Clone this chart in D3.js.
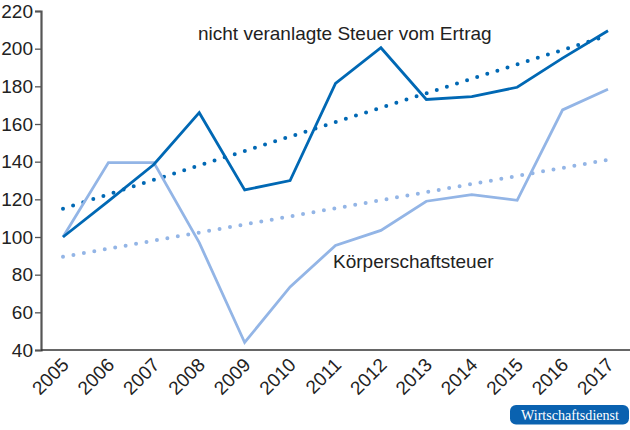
<!DOCTYPE html>
<html>
<head>
<meta charset="utf-8">
<script src="https://cdn.jsdelivr.net/npm/d3@7"></script>
<style>
  body { margin: 0; background: #fff; }
  text { font-family: "Liberation Sans", Arial, Helvetica, sans-serif; }
</style>
</head>
<body>
<div id="chart"></div>
<script>
// data
var years = [2005, 2006, 2007, 2008, 2009, 2010, 2011, 2012, 2013, 2014, 2015, 2016, 2017];
var ertrag = [100, 119, 138.5, 166, 125, 130, 181.5, 200.5, 173, 174.5, 179.5, 195, 209.5];
var koerperschaft = [100, 139.5, 139.5, 97, 44, 73.5, 95.5, 103.5, 119, 122.5, 119.5, 167.5, 178.5];
// dotted trend lines, start and end values (2005, 2017)
var trendYears = [2005, 2017];
var ertragTrend = [115, 207];
var koerperTrend = [89.5, 141];
var yTicks = [40, 60, 80, 100, 120, 140, 160, 180, 200, 220];

var W = 630, H = 430;
var margin = {top: 11, right: 0, bottom: 80, left: 41};
var width = W - margin.left - margin.right,
    height = H - margin.top - margin.bottom;

var dark = "#0068b4", light = "#93b5e6";
var fs = 19;

var svg = d3.select("#chart").append("svg")
    .attr("width", W)
    .attr("height", H);

var g = svg.append("g")
    .attr("transform", "translate(" + margin.left + "," + margin.top + ")");

var x = d3.scaleLinear().domain([2005, 2017]).range([22, 567]);
var y = d3.scaleLinear().domain([40, 220]).range([height, 0]);

// y axis
var yAxis = d3.axisLeft(y).tickValues(yTicks).tickSize(6).tickPadding(2);
var ya = g.append("g").call(yAxis);
ya.select(".domain").attr("stroke", "#555").attr("stroke-width", 2.2);
ya.selectAll(".tick line").attr("stroke", "#555").attr("stroke-width", 1.3);
ya.selectAll("text").attr("font-size", fs).attr("fill", "#222");

// x axis line
g.append("line")
    .attr("x1", 0).attr("x2", width)
    .attr("y1", height).attr("y2", height)
    .attr("stroke", "#333").attr("stroke-width", 1.6);

// x labels rotated
g.selectAll(".xlab")
    .data(years)
    .enter().append("text")
    .attr("class", "xlab")
    .attr("text-anchor", "end")
    .attr("font-size", fs)
    .attr("fill", "#222")
    .attr("transform", function(d){
        return "translate(" + (x(d) + 7) + "," + (height + 16) + ") rotate(-45)";
    })
    .text(function(d){ return d; });

var line = d3.line()
    .x(function(d){ return x(d[0]); })
    .y(function(d){ return y(d[1]); });

// trend lines (dotted)
g.append("path")
    .datum(d3.zip(trendYears, koerperTrend))
    .attr("d", line)
    .attr("fill", "none")
    .attr("stroke", light)
    .attr("stroke-width", 4)
    .attr("stroke-linecap", "round")
    .attr("stroke-dasharray", "0,10.6");

g.append("path")
    .datum(d3.zip(trendYears, ertragTrend))
    .attr("d", line)
    .attr("fill", "none")
    .attr("stroke", dark)
    .attr("stroke-width", 4)
    .attr("stroke-linecap", "round")
    .attr("stroke-dasharray", "0,10.6");

// series
g.append("path")
    .datum(d3.zip(years, koerperschaft))
    .attr("d", line)
    .attr("fill", "none")
    .attr("stroke", light)
    .attr("stroke-width", 2.8)
    .attr("stroke-linejoin", "miter");

g.append("path")
    .datum(d3.zip(years, ertrag))
    .attr("d", line)
    .attr("fill", "none")
    .attr("stroke", dark)
    .attr("stroke-width", 2.8)
    .attr("stroke-linejoin", "miter");

// series labels
g.append("text")
    .attr("x", 157).attr("y", 29)
    .attr("font-size", fs)
    .attr("fill", "#222")
    .text("nicht veranlagte Steuer vom Ertrag");

g.append("text")
    .attr("x", 292).attr("y", 257)
    .attr("font-size", fs)
    .attr("fill", "#222")
    .text("Körperschaftsteuer");

// badge
svg.append("rect")
    .attr("x", 510).attr("y", 405)
    .attr("width", 119).attr("height", 19.5)
    .attr("rx", 6).attr("ry", 6)
    .attr("fill", "#0a62b0");

svg.append("text")
    .attr("x", 521).attr("y", 420)
    .attr("font-size", 15.5)
    .attr("fill", "#fff")
    .attr("textLength", 98)
    .attr("lengthAdjust", "spacingAndGlyphs")
    .style("font-family", "'Liberation Serif', 'DejaVu Serif', serif")
    .text("Wirtschaftsdienst");
</script>
</body>
</html>
